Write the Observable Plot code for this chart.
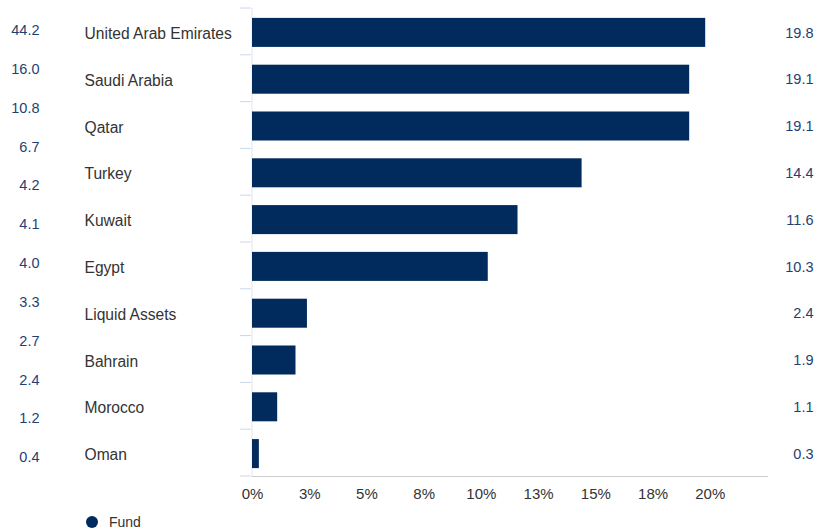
<!DOCTYPE html>
<html><head><meta charset="utf-8">
<script src="https://cdn.jsdelivr.net/npm/d3@7"></script>
<script src="https://cdn.jsdelivr.net/npm/@observablehq/plot@0.6"></script>
<style>
body{margin:0;background:#fff;font-family:Arial,"Liberation Sans",sans-serif}
#wrap{position:relative;width:817px;height:529px;overflow:hidden}
#main,#side{position:absolute;left:0;top:0}
#legend{position:absolute;left:86px;top:514px;height:16px;display:flex;align-items:center;font-size:14px;color:#333}
#legend .dot{display:inline-block;width:12px;height:12px;border-radius:50%;background:#002b5c;margin-right:11px}
</style></head><body>
<div id="wrap"><div id="main"></div><div id="side"></div><div id="legend"><span class="dot"></span><span id="legname"></span></div></div>
<script>
const categories = ["United Arab Emirates","Saudi Arabia","Qatar","Turkey","Kuwait","Egypt","Liquid Assets","Bahrain","Morocco","Oman"];
const fundValues = [19.8,19.1,19.1,14.4,11.6,10.3,2.4,1.9,1.1,0.3];
const sideValues = [44.2,16.0,10.8,6.7,4.2,4.1,4.0,3.3,2.7,2.4,1.2,0.4];
const xTicks = [0,2.5,5,7.5,10,12.5,15,17.5,20];
const seriesName = "Fund";

const barColor = "#002b5c";
const valueColor = "#1f3f73";
const textColor = "#333333";
const font = "Arial, 'Liberation Sans', sans-serif";

const rows = categories.map((c, i) => ({country: c, value: fundValues[i]}));

function bandSeparators(index, scales) {
  const sy = scales.y;
  const desc = scales.scales && scales.scales.y;
  const bw = typeof sy.bandwidth === "function" ? sy.bandwidth() : desc.bandwidth;
  const st = typeof sy.step === "function" ? sy.step() : desc.step;
  const off = (st - bw) / 2;
  const g = d3.create("svg:g");
  const ys = categories.map(c => sy(c) - off);
  ys.push(sy(categories[categories.length - 1]) + bw + off);
  const x0 = scales.x(0);
  g.selectAll("line").data(ys).join("line")
    .attr("x1", x0 - 12).attr("x2", x0 - 1)
    .attr("y1", d => d).attr("y2", d => d)
    .attr("stroke", "#ccd6eb").attr("stroke-width", 1);
  return g.node();
}

const main = Plot.plot({
  width: 817,
  height: 508,
  marginLeft: 252,
  marginRight: 50,
  marginTop: 8,
  marginBottom: 32,
  style: {fontSize: "14px", fontFamily: font, background: "transparent"},
  x: {domain: [0, 22.5], axis: null, label: null},
  y: {domain: categories, paddingInner: 0.38, paddingOuter: 0.19, round: false, axis: null, label: null},
  marks: [
    Plot.frame({anchor: "left", stroke: "#dfe5ee", dx: -0.5}),
    bandSeparators,
    Plot.barX(rows, {y: "country", x: "value", fill: barColor, dy: 1}),
    Plot.frame({anchor: "bottom", stroke: "#cccccc"}),
    Plot.axisX({ticks: xTicks, tickSize: 0, tickPadding: 12, label: null, tickFormat: d => Math.round(d) + "%", fill: textColor, fontSize: 15, fontFamily: font}),
    Plot.text(categories, {y: d => d, text: d => d, frameAnchor: "left", dx: -168, dy: 2, textAnchor: "start", fill: textColor, fontSize: 15.6, fontFamily: font}),
    Plot.text(rows, {y: "country", text: d => d.value.toFixed(1), frameAnchor: "right", dx: 46, dy: 1, textAnchor: "end", fill: valueColor, fontSize: 14.5, fontFamily: font})
  ]
});
document.getElementById("main").appendChild(main);

const side = Plot.plot({
  width: 60,
  height: 508,
  marginTop: 30,
  marginBottom: 51,
  marginLeft: 0,
  marginRight: 21,
  style: {fontSize: "14px", fontFamily: font, background: "transparent"},
  x: {axis: null},
  y: {type: "point", domain: d3.range(sideValues.length), padding: 0, round: false, axis: null},
  marks: [
    Plot.text(sideValues, {y: (d, i) => i, text: d => d.toFixed(1), frameAnchor: "right", textAnchor: "end", fill: valueColor, fontSize: 14.5, fontFamily: font})
  ]
});
document.getElementById("side").appendChild(side);
document.getElementById("legname").textContent = seriesName;
</script>
</body></html>
